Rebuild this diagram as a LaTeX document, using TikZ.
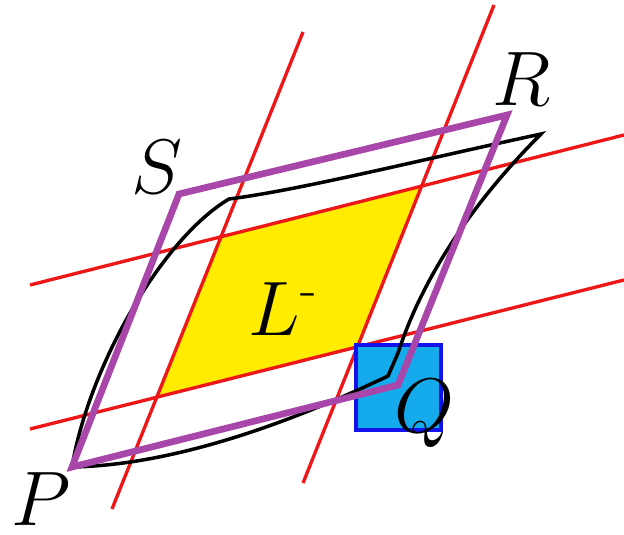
\RequirePackage{fix-cm}
\documentclass[tikz,border=0pt]{standalone}
\usepackage{amsmath}
\definecolor{redline}{RGB}{238,22,22}
\definecolor{yellowfill}{RGB}{255,236,0}
\definecolor{purpleline}{RGB}{168,70,170}
\definecolor{bluefill}{RGB}{20,170,235}
\definecolor{blueline}{RGB}{18,18,235}
\tikzset{
  redgrid/.style={draw=redline, line width=1.9pt},
  lens/.style={fill=yellowfill},
  qbox/.style={fill=bluefill, draw=blueline, line width=1.8pt},
  curvy/.style={draw=black, line width=2pt, line join=miter},
  para/.style={draw=purpleline, line width=3.8pt, line join=miter},
  lbl/.style={inner sep=0pt, anchor=base, font=\fontsize{44}{44}\selectfont}
}
\begin{document}
\begin{tikzpicture}[x=0.02cm, y=-0.02cm]
\useasboundingbox (0,0) rectangle (624,534);
% red line end points
\coordinate (A1) at (112,509); \coordinate (A2) at (303,32);
\coordinate (B1) at (303,483); \coordinate (B2) at (494,5);
\coordinate (C1) at (30,285);  \coordinate (C2) at (624,135);
\coordinate (D1) at (30,429);  \coordinate (D2) at (624,280);
% yellow region
\coordinate (Y1) at (intersection of A1--A2 and C1--C2);
\coordinate (Y2) at (intersection of B1--B2 and C1--C2);
\coordinate (Y3) at (intersection of B1--B2 and D1--D2);
\coordinate (Y4) at (intersection of A1--A2 and D1--D2);
\path[lens] (Y1) -- (Y2) -- (Y3) -- (Y4) -- cycle;
% red grid
\draw[redgrid] (A1) -- (A2);
\draw[redgrid] (B1) -- (B2);
\draw[redgrid] (C1) -- (C2);
\draw[redgrid] (D1) -- (D2);
% blue square
\draw[qbox] (356,345) rectangle (441,430);
% black curved shape
\coordinate (p) at (72,467);
\coordinate (s) at (229,199);
\coordinate (r) at (541,134);
\coordinate (qa) at (398,353);
\coordinate (q) at (388,376);
\draw[curvy] (p) .. controls (88,370) and (160,240) .. (s)
  .. controls (300,190) and (420,160) .. (r)
  .. controls (480,195) and (425,270) .. (qa)
  -- (q)
  .. controls (300,418) and (180,465) .. cycle;
% purple parallelogram
\coordinate (PP) at (72,467);
\coordinate (PS) at (179,194);
\coordinate (PR) at (507,115);
\coordinate (PQ) at (398,385);
\draw[para] (PP) -- (PS) -- (PR) -- (PQ) -- cycle;
% labels
\node[lbl] (labS) at (157,193) {$S$};
\node[lbl] (labR) at (522,105) {$R$};
\node[lbl] (labP) at (41,525) {$P$};
\node[lbl] (labQ) at (424,432) {$Q$};
\node[lbl] (labL) at (283,335) {$L^{\text{-}}$};
\end{tikzpicture}
\end{document}
